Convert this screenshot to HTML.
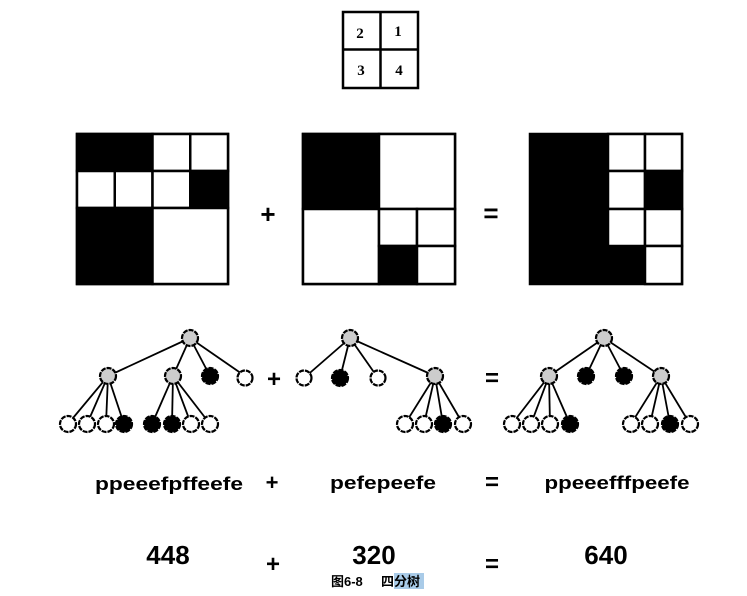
<!DOCTYPE html>
<html><head><meta charset="utf-8"><style>
body{margin:0;background:#fff;width:747px;height:591px;overflow:hidden}
</style></head><body>
<svg width="747" height="591" viewBox="0 0 747 591" xmlns="http://www.w3.org/2000/svg" font-family="Liberation Sans, sans-serif">
<g stroke="#000" stroke-width="2.5" fill="#fff">
<rect x="343" y="12" width="75" height="76"/>
<line x1="380.5" y1="12" x2="380.5" y2="88"/>
<line x1="343" y1="49.5" x2="418" y2="49.5"/>
</g>
<g font-weight="bold" font-size="15" text-anchor="middle" font-family="Liberation Serif, serif">
<text x="360" y="38">2</text><text x="398" y="36">1</text>
<text x="361" y="75">3</text><text x="399" y="75">4</text>
</g>

<g stroke="#000" stroke-width="2.5">
<rect x="77" y="134" width="151" height="150" fill="#fff"/>
<rect x="77" y="134" width="75.5" height="37" fill="#000"/>
<rect x="77" y="171" width="37.75" height="37" fill="#fff"/>
<rect x="114.75" y="171" width="37.75" height="37" fill="#fff"/>
<rect x="152.5" y="134" width="37.75" height="37" fill="#fff"/>
<rect x="190.25" y="134" width="37.75" height="37" fill="#fff"/>
<rect x="152.5" y="171" width="37.75" height="37" fill="#fff"/>
<rect x="190.25" y="171" width="37.75" height="37" fill="#000"/>
<rect x="77" y="208" width="75.5" height="76" fill="#000"/>
<rect x="152.5" y="208" width="75.5" height="76" fill="#fff"/>

<rect x="303" y="134" width="152" height="150" fill="#fff"/>
<rect x="303" y="134" width="76" height="75" fill="#000"/>
<rect x="379" y="134" width="76" height="75" fill="#fff"/>
<rect x="303" y="209" width="76" height="75" fill="#fff"/>
<rect x="379" y="209" width="38" height="37" fill="#fff"/>
<rect x="417" y="209" width="38" height="37" fill="#fff"/>
<rect x="379" y="246" width="38" height="38" fill="#000"/>
<rect x="417" y="246" width="38" height="38" fill="#fff"/>

<rect x="530" y="134" width="152" height="150" fill="#000"/>
<rect x="608" y="134" width="37" height="37" fill="#fff"/>
<rect x="645" y="134" width="37" height="37" fill="#fff"/>
<rect x="608" y="171" width="37" height="38" fill="#fff"/>
<rect x="645" y="171" width="37" height="38" fill="#000"/>
<rect x="608" y="209" width="37" height="37" fill="#fff"/>
<rect x="645" y="209" width="37" height="37" fill="#fff"/>
<rect x="645" y="246" width="37" height="38" fill="#fff"/>
</g>

<g font-weight="bold" text-anchor="middle" fill="#000">
<text x="268" y="223" font-size="26">+</text>
<text x="491" y="222" font-size="26">=</text>
</g>

<g stroke="#000" stroke-width="1.8">
<line x1="190" y1="338" x2="108" y2="376"/><line x1="190" y1="338" x2="173" y2="376"/><line x1="190" y1="338" x2="210" y2="376"/><line x1="190" y1="338" x2="245" y2="376"/>
<line x1="108" y1="376" x2="68" y2="424"/><line x1="108" y1="376" x2="87" y2="424"/><line x1="108" y1="376" x2="106" y2="424"/><line x1="108" y1="376" x2="124" y2="424"/>
<line x1="173" y1="376" x2="152" y2="424"/><line x1="173" y1="376" x2="172" y2="424"/><line x1="173" y1="376" x2="191" y2="424"/><line x1="173" y1="376" x2="210" y2="424"/>
<line x1="350" y1="338" x2="304" y2="378"/><line x1="350" y1="338" x2="340" y2="378"/><line x1="350" y1="338" x2="378" y2="378"/><line x1="350" y1="338" x2="435" y2="376"/>
<line x1="435" y1="376" x2="405" y2="424"/><line x1="435" y1="376" x2="424" y2="424"/><line x1="435" y1="376" x2="443" y2="424"/><line x1="435" y1="376" x2="463" y2="424"/>
<line x1="604" y1="338" x2="549" y2="376"/><line x1="604" y1="338" x2="586" y2="376"/><line x1="604" y1="338" x2="624" y2="376"/><line x1="604" y1="338" x2="661" y2="376"/>
<line x1="549" y1="376" x2="512" y2="424"/><line x1="549" y1="376" x2="531" y2="424"/><line x1="549" y1="376" x2="550" y2="424"/><line x1="549" y1="376" x2="570" y2="424"/>
<line x1="661" y1="376" x2="631" y2="424"/><line x1="661" y1="376" x2="650" y2="424"/><line x1="661" y1="376" x2="670" y2="424"/><line x1="661" y1="376" x2="690" y2="424"/>
</g>
<g stroke="#000" stroke-width="2.2" stroke-dasharray="5 1">
<g fill="#ccc">
<circle cx="190" cy="338" r="8"/><circle cx="108" cy="376" r="8"/><circle cx="173" cy="376" r="8"/>
<circle cx="350" cy="338" r="8"/><circle cx="435" cy="376" r="8"/>
<circle cx="604" cy="338" r="8"/><circle cx="549" cy="376" r="8"/><circle cx="661" cy="376" r="8"/>
</g>
<g fill="#000">
<circle cx="210" cy="376" r="8"/><circle cx="124" cy="424" r="8"/><circle cx="152" cy="424" r="8"/><circle cx="172" cy="424" r="8"/>
<circle cx="340" cy="378" r="8"/><circle cx="443" cy="424" r="8"/>
<circle cx="586" cy="376" r="8"/><circle cx="624" cy="376" r="8"/><circle cx="570" cy="424" r="8"/><circle cx="670" cy="424" r="8"/>
</g>
<g fill="#fff">
<circle cx="245" cy="378" r="7.5"/><circle cx="68" cy="424" r="8"/><circle cx="87" cy="424" r="8"/><circle cx="106" cy="424" r="8"/>
<circle cx="191" cy="424" r="8"/><circle cx="210" cy="424" r="8"/>
<circle cx="304" cy="378" r="7.5"/><circle cx="378" cy="378" r="7.5"/><circle cx="405" cy="424" r="8"/><circle cx="424" cy="424" r="8"/><circle cx="463" cy="424" r="8"/>
<circle cx="512" cy="424" r="8"/><circle cx="531" cy="424" r="8"/><circle cx="550" cy="424" r="8"/>
<circle cx="631" cy="424" r="8"/><circle cx="650" cy="424" r="8"/><circle cx="690" cy="424" r="8"/>
</g>
</g>
<g font-weight="bold" text-anchor="middle">
<text x="274" y="387" font-size="24">+</text>
<text x="492" y="386" font-size="24">=</text>
</g>

<g font-weight="bold" fill="#000">
<text x="169" y="490" font-size="18" text-anchor="middle" textLength="148" lengthAdjust="spacingAndGlyphs">ppeeefpffeefe</text>
<text x="383" y="489" font-size="18" text-anchor="middle" textLength="106" lengthAdjust="spacingAndGlyphs">pefepeefe</text>
<text x="617" y="489" font-size="18" text-anchor="middle" textLength="145" lengthAdjust="spacingAndGlyphs">ppeeefffpeefe</text>
<text x="272" y="490" font-size="22" text-anchor="middle">+</text>
<text x="492" y="490" font-size="24" text-anchor="middle">=</text>
<text x="168" y="564" font-size="26" text-anchor="middle">448</text>
<text x="374" y="564" font-size="26" text-anchor="middle">320</text>
<text x="606" y="564" font-size="26" text-anchor="middle">640</text>
<text x="273" y="572" font-size="24" text-anchor="middle">+</text>
<text x="492" y="572" font-size="24" text-anchor="middle">=</text>
</g>
<rect x="394" y="573" width="30" height="16" fill="#a9cbe8"/>
<text x="331" y="586" font-size="13" font-weight="bold" font-family="Liberation Sans, Noto Sans CJK SC, sans-serif">图6-8<tspan x="381">四分树</tspan></text>
</svg>
</body></html>
